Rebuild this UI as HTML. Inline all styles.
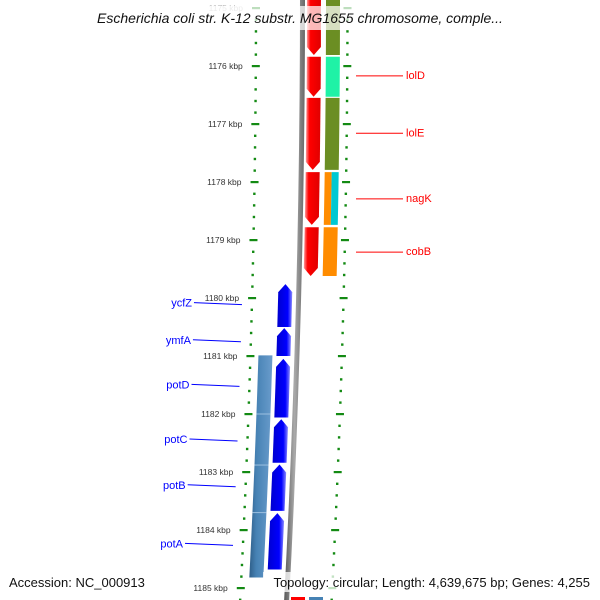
<!DOCTYPE html>
<html><head><meta charset="utf-8"><title>Genome map</title>
<style>
html,body{margin:0;padding:0;background:#fff;}
svg{display:block;font-family:"Liberation Sans",sans-serif;}
</style></head>
<body>
<svg id="map" width="600" height="600" viewBox="0 0 600 600" xmlns="http://www.w3.org/2000/svg">
<defs>
<linearGradient id="gRed" x1="0" x2="1" y1="0" y2="0"><stop offset="0" stop-color="#ff9a9a"/><stop offset="0.25" stop-color="#ff0000"/><stop offset="1" stop-color="#e00000"/></linearGradient>
<linearGradient id="gBlue" x1="0" x2="1" y1="0" y2="0"><stop offset="0" stop-color="#0000d0"/><stop offset="0.7" stop-color="#0000ff"/><stop offset="1" stop-color="#8a8aff"/></linearGradient>
<linearGradient id="gSteel" x1="0" x2="1" y1="0" y2="0"><stop offset="0" stop-color="#2f5f8a"/><stop offset="0.3" stop-color="#4682b4"/><stop offset="1" stop-color="#6a9ccc"/></linearGradient>
<linearGradient id="gGray" x1="0" x2="1" y1="0" y2="0"><stop offset="0" stop-color="#555"/><stop offset="0.5" stop-color="#aaa"/><stop offset="1" stop-color="#666"/></linearGradient>
</defs>
<g id="layer"></g>
<g>
<rect x="74" y="6" width="452" height="24" fill="#fff" fill-opacity="0.72"/>
<text x="300" y="23" text-anchor="middle" font-size="14" font-style="italic" fill="#111">Escherichia coli str. K-12 substr. MG1655 chromosome, comple...</text>
</g>
<text x="9" y="587" font-size="13" fill="#111">Accession: NC_000913</text>
<rect x="263" y="572" width="330" height="20" fill="#fff" fill-opacity="0.75"/>
<text x="590" y="587" text-anchor="end" font-size="13" fill="#111">Topology: circular; Length: 4,639,675 bp; Genes: 4,255</text>
</svg>
<script>
// ---- data ----
const tickKbp = [1175,1176,1177,1178,1179,1180,1181,1182,1183,1184,1185];
const fwdStarts = [1174.5,1175.84,1176.55,1177.83,1178.78];
const fwdEnds   = [1175.81,1176.53,1177.79,1178.74,1179.62];
const fwdCog    = ['#6b8e23','#1ff2a6','#6b8e23','orange-cyan','#ff8c00'];
const revNames  = ['ycfZ','ymfA','potD','potC','potB','potA'];
const revStarts = [1179.76,1180.52,1181.05,1182.09,1182.87,1183.71];
const revEnds   = [1180.5,1181.0,1182.06,1182.84,1183.67,1184.68];
const fwdLabels = ['lolD','lolE','nagK','cobB'];
const fwdLabelKbp = [1176.17,1177.16,1178.29,1179.21];
const revLabelKbp = [1180.08,1180.72,1181.49,1182.43,1183.22,1184.23];
const steelStart = 1180.99, steelEnd = 1184.82;

// ---- axes ----
function Y(k){ return 8 + 58*(k-1175); }
function DX(y){ return -4.4e-5*y*y; }
function X(x0,y){ return x0 + DX(y); }

const NS='http://www.w3.org/2000/svg';
const layer=document.getElementById('layer');
function mk(tag,attrs,parent){const e=document.createElementNS(NS,tag);for(const k in attrs)e.setAttribute(k,attrs[k]);(parent||layer).appendChild(e);return e;}
function band(x0a,x0b,ya,yb,steps){ // polygon following curve
  const pts=[];const n=steps||6;
  for(let i=0;i<=n;i++){const y=ya+(yb-ya)*i/n;pts.push([X(x0a,y),y]);}
  for(let i=n;i>=0;i--){const y=ya+(yb-ya)*i/n;pts.push([X(x0b,y),y]);}
  return pts.map(p=>p[0].toFixed(2)+','+p[1].toFixed(2)).join(' ');
}

// backbone
const bb=mk('polygon',{points:band(300,305,-5,605,12),fill:'url(#gGray)'});



// tick rulers
function ruler(x0,side,name){
  const g=mk('g',{});
  
  
  for(let k=1174.8;k<=1185.31;k+=0.2){
    const kk=Math.round(k*10)/10;const y=Y(kk);
    if(y<-2||y>602)continue;
    const major=Math.abs(kk-Math.round(kk))<0.01;
    const x=X(x0,y);
    if(major){const r=mk('rect',{x:x-4,y:y-1,width:8,height:2.2,fill:'#138a13'},g);
      }
    else{const r=mk('rect',{x:x-1.2,y:y-1,width:2.4,height:2.4,fill:'#138a13'},g);
      }
  }
  return g;
}
ruler(256,'left','left-tick-ruler');
ruler(347.5,'right','right-tick-ruler');
tickKbp.forEach(k=>{
  const y=Y(k);const t=mk('text',{x:X(243,y),y:y+3,'text-anchor':'end','font-size':'8.5',fill:k===1175?'#bbb':'#333'});
  t.textContent=k+' kbp';
  
  
});

// forward genes (red, pointing down) + COG ring
fwdStarts.forEach((s,i)=>{
  const ya=Y(s), yb=Y(fwdEnds[i]), h=8;
  const xa=307,xb=321;
  const ym=yb-h;
  const pts=[[X(xa,ya),ya],[X(xb,ya),ya],[X(xb,ym),ym],[X((xa+xb)/2,yb),yb],[X(xa,ym),ym]];
  const p=mk('polygon',{points:pts.map(q=>q.join(',')).join(' '),fill:'url(#gRed)'});
  
  
  const c=fwdCog[i];
  if(c==='orange-cyan'){
    const a=mk('polygon',{points:band(326,333,ya,yb,3),fill:'#ff8c00'});
    
    const b=mk('polygon',{points:band(333,340,ya,yb,3),fill:'#00c8d2'});
    
  } else {
    const a=mk('polygon',{points:band(326,340,ya,yb,3),fill:c});
    
  }
});
fwdLabels.forEach((n,i)=>{
  const y=Y(fwdLabelKbp[i]);
  const l=mk('line',{x1:356,y1:y,x2:403,y2:y,stroke:'#f00','stroke-width':1});
  
  const t=mk('text',{x:406,y:y+3,'font-size':'11',fill:'#f00'});t.textContent=n;
  
});

// steel-blue ring segment
const st=mk('polygon',{points:band(264,278,Y(steelStart),Y(steelEnd),6),fill:'url(#gSteel)'});


[1182.0,1182.88,1183.7].forEach(k=>{const y=Y(k);
  const l=mk('line',{x1:X(264,y),y1:y,x2:X(278,y),y2:y,stroke:'#9cc0e0','stroke-width':1});
  });

// reverse genes (blue, pointing up)
revStarts.forEach((s,i)=>{
  const ya=Y(s), yb=Y(revEnds[i]), h=8;
  const xa=282,xb=296;const ym=ya+h;
  const pts=[[X((xa+xb)/2,ya),ya],[X(xb,ym),ym],[X(xb,yb),yb],[X(xa,yb),yb],[X(xa,ym),ym]];
  const p=mk('polygon',{points:pts.map(q=>q.join(',')).join(' '),fill:'url(#gBlue)'});
  
  
  const y=Y(revLabelKbp[i]);
  const l=mk('line',{x1:X(197,y)+1,y1:y,x2:X(246,y),y2:y+2,stroke:'#00f','stroke-width':1});
  
  const t=mk('text',{x:X(196,y),y:y+4,'text-anchor':'end','font-size':'11',fill:'#00f'});t.textContent=revNames[i];
  
});

// bottom partial features
const rb=mk('rect',{x:291,y:597,width:14,height:3,fill:'#f00'});

const sb=mk('rect',{x:309,y:597,width:14,height:3,fill:'#4682b4'});

</script>
</body></html>
